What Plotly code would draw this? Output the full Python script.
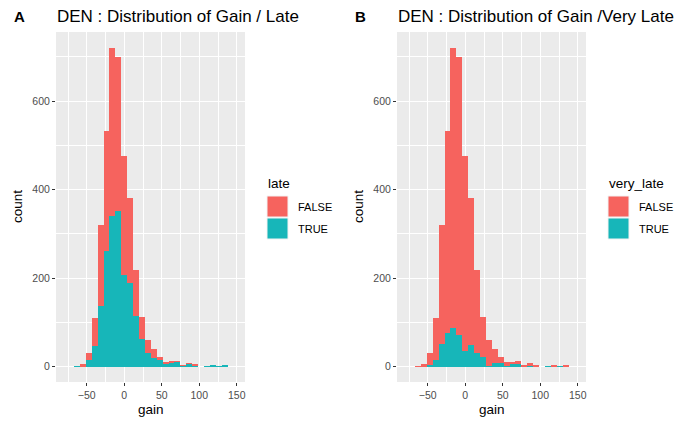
import numpy as np
import plotly.graph_objects as go

# ---- data ----
bin_start = -66.9      # left edge of first bin (gain units)
bin_width = 7.87       # histogram bin width (gain units)
total_counts   = [1, 5, 30, 111, 319, 533, 720, 700, 477, 380, 218, 113, 60, 41, 21, 11, 11, 12, 3, 8, 4, 0, 1, 2, 1, 2]
late_true      = [1, 1, 15, 47, 137, 261, 341, 352, 207, 190, 114, 63, 30, 20, 15, 7, 10, 11, 2, 7, 3, 0, 1, 2, 1, 2]
very_late_true = [0, 0, 4, 15, 51, 75, 87, 72, 35, 49, 30, 21, 2, 9, 9, 2, 5, 7, 1, 1, 1, 0, 1, 0, 1, 0]

x_ticks = [-50, 0, 50, 100, 150]
y_ticks = [0, 200, 400, 600]

titles = ["DEN : Distribution of Gain / Late", "DEN : Distribution of Gain /Very Late"]
legend_titles = ["late", "very_late"]
legend_labels = ["FALSE", "TRUE"]
tags = ["A", "B"]

RED = "#F6635E"
TEAL = "#17B6B9"

total = np.array(total_counts)
centers = bin_start + bin_width * (np.arange(len(total)) + 0.5)
late_false = total - np.array(late_true)
very_late_false = total - np.array(very_late_true)

W, H = 676, 423
FONT = "Liberation Sans"

fig = go.Figure()
panels = [
    ("x", "y", late_true, late_false),
    ("x2", "y2", very_late_true, very_late_false),
]
for xa, ya, tru, fal in panels:
    fig.add_trace(go.Bar(x=centers, y=tru, width=bin_width, name="TRUE", xaxis=xa, yaxis=ya,
                         marker=dict(color=TEAL, line=dict(width=0)), showlegend=False, hoverinfo="x+y"))
    fig.add_trace(go.Bar(x=centers, y=fal, width=bin_width, name="FALSE", xaxis=xa, yaxis=ya,
                         marker=dict(color=RED, line=dict(width=0)), showlegend=False, hoverinfo="x+y"))

x_range = [-91, 161]
y_range = [-34.6, 756]

def xaxis(domain, anchor):
    return dict(domain=domain, anchor=anchor, range=x_range, tickvals=x_ticks,
                showgrid=True, gridcolor="white", gridwidth=1.1, zeroline=False,
                ticks="outside", ticklen=3, tickwidth=1, tickcolor="#333333",
                tickfont=dict(family=FONT, size=10.5, color="#4D4D4D"),
                minor=dict(dtick=25, tick0=0, showgrid=True, gridcolor="white", gridwidth=0.5),
                automargin=False, fixedrange=True)

def yaxis(domain, anchor):
    return dict(domain=domain, anchor=anchor, range=y_range, tickvals=y_ticks,
                showgrid=True, gridcolor="white", gridwidth=1.1, zeroline=False,
                ticks="outside", ticklen=3, tickwidth=1, tickcolor="#333333",
                tickfont=dict(family=FONT, size=10.5, color="#4D4D4D"),
                minor=dict(dtick=100, tick0=0, showgrid=True, gridcolor="white", gridwidth=0.5),
                automargin=False, fixedrange=True)

yd = [1 - 382 / H, 1 - 32 / H]
panel_x = [(56, 245), (397, 586)]
fig.update_layout(
    width=W, height=H,
    margin=dict(l=0, r=0, t=0, b=0),
    paper_bgcolor="white", plot_bgcolor="#EBEBEB",
    barmode="stack", bargap=0,
    font=dict(family=FONT),
    showlegend=False,
    xaxis=xaxis([panel_x[0][0] / W, panel_x[0][1] / W], "y"),
    yaxis=yaxis(yd, "x"),
    xaxis2=xaxis([panel_x[1][0] / W, panel_x[1][1] / W], "y2"),
    yaxis2=yaxis(yd, "x2"),
)

def ann(text, x, y, size, xanchor="left", textangle=0, color="black"):
    fig.add_annotation(text=text, x=x / W, y=1 - y / H, xref="paper", yref="paper",
                       xanchor=xanchor, yanchor="middle", showarrow=False, textangle=textangle,
                       font=dict(family=FONT, size=size, color=color))

legend_x = [267, 608]
for i in range(2):
    px0, px1 = panel_x[i]
    ann("<b>" + tags[i] + "</b>", px0 - 44, 17, 15)
    ann(titles[i], px0 - 1, 17, 17)
    ann("gain", (px0 + px1) / 2, 409, 13.5, xanchor="center")
    ann("count", px0 - 38, 207, 13.5, xanchor="center", textangle=-90)
    lx = legend_x[i]
    ann(legend_titles[i], lx - 1, 183, 13.5)
    for j, (lab, col) in enumerate(zip(legend_labels, [RED, TEAL])):
        y0 = 196 + j * 22
        fig.add_shape(type="rect", xref="paper", yref="paper",
                      x0=lx / W, x1=(lx + 21) / W, y0=1 - y0 / H, y1=1 - (y0 + 21) / H,
                      fillcolor=col, line=dict(color="#F2F2F2", width=1))
        ann(lab, lx + 29, y0 + 11, 11)

fig.write_html("out.html", config={"displayModeBar": False},
               post_script="document.body.style.margin='0px';document.body.style.overflow='hidden';")
